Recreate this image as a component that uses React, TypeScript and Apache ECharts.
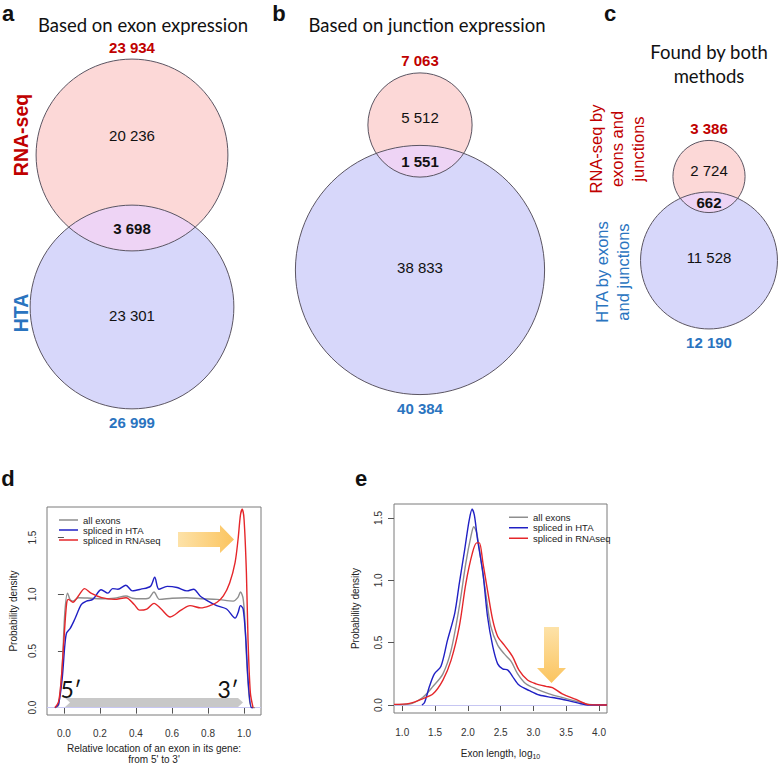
import React, { useEffect, useRef } from "react";
import * as echarts from "echarts";

// ---------- Venn data (panels a, b, c) ----------
const vennPanels = ["a", "b", "c"];
const rnaTotals = [23934, 7063, 3386];
const htaTotals = [26999, 40384, 12190];
const rnaOnly = [20236, 5512, 2724];
const overlaps = [3698, 1551, 662];
const htaOnly = [23301, 38833, 11528];
const vennTitles = ["Based on exon expression", "Based on junction expression", "Found by both\nmethods"];

// ---------- Panel d: relative location of exon ----------
const dAllExons: [number, number][] = [
  [-0.05, 0], [-0.03, 0.02], [-0.01, 0.35], [0.005, 0.84], [0.02, 1.01], [0.035, 0.95], [0.05, 0.94],
  [0.08, 0.97], [0.15, 0.965], [0.21, 0.96], [0.28, 0.965], [0.345, 0.985], [0.38, 0.965], [0.43, 0.96],
  [0.47, 0.965], [0.5, 1.02], [0.53, 0.955], [0.6, 0.965], [0.68, 0.97], [0.76, 0.96], [0.85, 0.955],
  [0.94, 0.94], [0.965, 0.97], [0.98, 1.02], [0.995, 0.96], [1.005, 0.75], [1.013, 0.46], [1.03, 0.07],
  [1.045, 0], [1.06, 0],
];
const dHTA: [number, number][] = [
  [-0.05, 0], [-0.03, 0.03], [-0.01, 0.25], [0.005, 0.55], [0.015, 0.66], [0.035, 0.7], [0.06, 0.78],
  [0.097, 0.91], [0.125, 0.94], [0.16, 0.955], [0.207, 1.04], [0.244, 1.01], [0.27, 1.05], [0.3, 1.045],
  [0.344, 1.08], [0.38, 1.03], [0.427, 1.045], [0.48, 1.07], [0.504, 1.15], [0.527, 1.045], [0.573, 1.07],
  [0.628, 1.06], [0.683, 1.03], [0.72, 1.045], [0.756, 0.985], [0.8, 0.94], [0.848, 0.9], [0.903, 0.87],
  [0.95, 0.79], [0.967, 0.84], [0.98, 0.9], [0.995, 0.87], [1.01, 0.6], [1.022, 0.25], [1.04, 0], [1.05, 0],
];
const dRNAseq: [number, number][] = [
  [-0.05, 0], [-0.03, 0.05], [-0.015, 0.25], [0.0, 0.6], [0.015, 0.92], [0.025, 0.955], [0.05, 0.93],
  [0.08, 0.985], [0.115, 1.05], [0.15, 1.01], [0.21, 0.97], [0.28, 0.955], [0.345, 0.97], [0.39, 0.91],
  [0.42, 0.86], [0.46, 0.87], [0.5, 0.92], [0.54, 0.87], [0.59, 0.8], [0.65, 0.86], [0.7, 0.9],
  [0.76, 0.88], [0.81, 0.9], [0.85, 0.93], [0.885, 0.985], [0.92, 1.1], [0.95, 1.28], [0.967, 1.49],
  [0.98, 1.7], [0.99, 1.75], [1.0, 1.66], [1.013, 1.19], [1.022, 0.6], [1.035, 0.13], [1.05, 0],
];
const dXTicks = [0, 0.2, 0.4, 0.6, 0.8, 1.0];
const dYTicks = [0, 0.5, 1.0, 1.5];

// ---------- Panel e: exon length ----------
const eAllExons: [number, number][] = [
  [0.874, 0.003], [1.11, 0.008], [1.31, 0.06], [1.47, 0.15], [1.62, 0.25], [1.745, 0.44], [1.87, 0.79],
  [1.97, 1.14], [2.05, 1.36], [2.09, 1.43], [2.135, 1.38], [2.2, 1.16], [2.28, 0.87], [2.35, 0.63],
  [2.455, 0.48], [2.556, 0.41], [2.66, 0.35], [2.76, 0.25], [2.885, 0.17], [3.04, 0.13], [3.24, 0.09],
  [3.44, 0.06], [3.65, 0.03], [3.85, 0.005], [4.122, 0],
];
const eHTA: [number, number][] = [
  [1.3, 0], [1.34, 0.02], [1.415, 0.15], [1.49, 0.25], [1.59, 0.31], [1.69, 0.52], [1.8, 0.735],
  [1.87, 0.976], [1.95, 1.24], [2.02, 1.48], [2.065, 1.57], [2.1, 1.52], [2.15, 1.32], [2.23, 1.06],
  [2.3, 0.71], [2.38, 0.47], [2.455, 0.33], [2.53, 0.29], [2.61, 0.28], [2.68, 0.23], [2.78, 0.16],
  [2.94, 0.115], [3.09, 0.08], [3.29, 0.06], [3.49, 0.04], [3.7, 0.013], [3.85, 0], [4.122, 0],
];
const eRNAseq: [number, number][] = [
  [0.874, 0.005], [1.11, 0.013], [1.31, 0.05], [1.47, 0.09], [1.62, 0.2], [1.745, 0.36], [1.87, 0.63],
  [1.97, 0.976], [2.07, 1.22], [2.135, 1.3], [2.175, 1.3], [2.23, 1.14], [2.3, 0.92], [2.38, 0.68],
  [2.455, 0.55], [2.556, 0.48], [2.68, 0.39], [2.78, 0.28], [2.91, 0.2], [3.04, 0.17], [3.19, 0.15],
  [3.29, 0.14], [3.44, 0.09], [3.65, 0.045], [3.85, 0.003], [4.122, 0],
];
const eXTicks = [1.0, 1.5, 2.0, 2.5, 3.0, 3.5, 4.0];
const eYTicks = [0, 0.5, 1.0, 1.5];
const seriesNames = ["all exons", "spliced in HTA", "spliced in RNAseq"];

// ---------- styles / layout ----------
const RED = "#c00000";
const BLUE = "#2a74bf";
const PINK_FILL = "#fcd8d7";
const BLUE_FILL = "#d7d7fa";
const LENS_FILL = "#eed4f5";
const CIRCLE_STROKE = "#5b5562";
const LINE_COLORS = ["#8e8e8e", "#2020c4", "#e5262a"];
const NUM_FONT = "'Liberation Sans', Arial, sans-serif";
const TITLE_FONT = "Lato, 'Open Sans', sans-serif";
const RADIUS_K = 0.62;

const vennCx = [132, 420, 709];
const rnaCy = [155, 125, 176.5];
const htaCy = [307, 270, 260.5];
const rnaOnlyY = [135, 117, 170];
const htaOnlyY = [315, 267, 257];

echarts.graphic.registerShape(
  "vennLens",
  echarts.graphic.extendShape({
    type: "vennLens",
    shape: { cx: 0, cy1: 0, r1: 1, cy2: 0, r2: 1 },
    buildPath(ctx: any, s: any) {
      const d = s.cy2 - s.cy1;
      const a = (d * d + s.r1 * s.r1 - s.r2 * s.r2) / (2 * d);
      const h = Math.sqrt(Math.max(s.r1 * s.r1 - a * a, 0));
      const t1 = Math.atan2(a, h);
      ctx.moveTo(s.cx + h, s.cy1 + a);
      ctx.arc(s.cx, s.cy1, s.r1, t1, Math.PI - t1, false);
      const pl = Math.atan2(a - d, -h);
      const pr = Math.atan2(a - d, h);
      ctx.arc(s.cx, s.cy2, s.r2, pl, pr, false);
      ctx.closePath();
    },
  }) as any
);

const fmt = (n: number) => n.toString().replace(/\B(?=(\d{3})+(?!\d))/g, " ");

function txt(x: number, y: number, text: string, opts: any = {}) {
  return {
    type: "text",
    x,
    y,
    rotation: opts.rotation || 0,
    z: opts.z || 10,
    style: {
      text,
      fill: opts.fill || "#111",
      font: `${opts.bold ? "bold " : ""}${opts.size || 15}px ${opts.family || NUM_FONT}`,
      align: opts.align || "center",
      verticalAlign: opts.verticalAlign || "middle",
      lineHeight: opts.lineHeight,
    },
  };
}

function buildGraphic() {
  const g: any[] = [];
  vennPanels.forEach((_, i) => {
    const r1 = RADIUS_K * Math.sqrt(rnaTotals[i]);
    const r2 = RADIUS_K * Math.sqrt(htaTotals[i]);
    const cx = vennCx[i];
    g.push({ type: "circle", z: 1, shape: { cx, cy: rnaCy[i], r: r1 }, style: { fill: PINK_FILL, stroke: null } });
    g.push({ type: "circle", z: 1, shape: { cx, cy: htaCy[i], r: r2 }, style: { fill: BLUE_FILL, stroke: null } });
    g.push({
      type: "vennLens",
      z: 2,
      shape: { cx, cy1: rnaCy[i], r1, cy2: htaCy[i], r2 },
      style: { fill: LENS_FILL, stroke: null },
    });
    g.push({ type: "circle", z: 3, shape: { cx, cy: rnaCy[i], r: r1 }, style: { fill: "none", stroke: CIRCLE_STROKE, lineWidth: 1 } });
    g.push({ type: "circle", z: 3, shape: { cx, cy: htaCy[i], r: r2 }, style: { fill: "none", stroke: CIRCLE_STROKE, lineWidth: 1 } });
    const lensMid = ((rnaCy[i] + r1) + (htaCy[i] - r2)) / 2;
    g.push(txt(cx, rnaCy[i] - r1 - 12, fmt(rnaTotals[i]), { bold: true, fill: RED }));
    g.push(txt(cx, rnaOnlyY[i], fmt(rnaOnly[i])));
    g.push(txt(cx, lensMid, fmt(overlaps[i]), { bold: true }));
    g.push(txt(cx, htaOnlyY[i], fmt(htaOnly[i])));
    g.push(txt(cx, htaCy[i] + r2 + 14, fmt(htaTotals[i]), { bold: true, fill: BLUE }));
  });
  // panel letters
  g.push(txt(8, 13, "a", { bold: true, size: 22 }));
  g.push(txt(279, 13, "b", { bold: true, size: 22 }));
  g.push(txt(610, 13, "c", { bold: true, size: 22 }));
  g.push(txt(8, 478, "d", { bold: true, size: 22 }));
  g.push(txt(361, 478, "e", { bold: true, size: 22 }));
  // titles
  g.push(txt(143, 25, vennTitles[0], { size: 18.5, family: TITLE_FONT }));
  g.push(txt(427, 25, vennTitles[1], { size: 18.5, family: TITLE_FONT }));
  g.push(txt(709, 64, vennTitles[2], { size: 18.5, family: TITLE_FONT, lineHeight: 24 }));
  // side labels
  g.push(txt(21, 135, "RNA-seq", { bold: true, fill: RED, size: 19.5, rotation: Math.PI / 2 }));
  g.push(txt(21, 313, "HTA", { bold: true, fill: BLUE, size: 19.5, rotation: Math.PI / 2 }));
  g.push(txt(596, 149, "RNA-seq by", { fill: RED, size: 16.5, rotation: Math.PI / 2 }));
  g.push(txt(617, 149, "exons and", { fill: RED, size: 16.5, rotation: Math.PI / 2 }));
  g.push(txt(638, 149, "junctions", { fill: RED, size: 16.5, rotation: Math.PI / 2 }));
  g.push(txt(602, 272, "HTA by exons", { fill: BLUE, size: 16.5, rotation: Math.PI / 2 }));
  g.push(txt(623, 272, "and junctions", { fill: BLUE, size: 16.5, rotation: Math.PI / 2 }));

  // panel d annotations
  g.push({
    type: "polygon",
    z: 5,
    shape: { points: [[178, 532], [220, 532], [220, 525], [234, 539.5], [220, 553], [220, 547], [178, 547]] },
    style: {
      fill: new echarts.graphic.LinearGradient(0, 0, 1, 0, [
        { offset: 0, color: "#fde2a8" },
        { offset: 1, color: "#fbc45f" },
      ]),
    },
  });
  g.push({
    type: "polygon",
    z: 4,
    shape: { points: [[65, 698], [238, 698], [243, 702.5], [238, 707], [65, 707], [70, 702.5]] },
    style: { fill: "#c8c8c8" },
  });
  g.push(txt(71, 689, "5′", { size: 23, family: TITLE_FONT }));
  g.push(txt(228, 689, "3′", { size: 23, family: TITLE_FONT }));

  // panel e arrow
  g.push({
    type: "polygon",
    z: 5,
    shape: { points: [[544, 627], [559, 627], [559, 668], [566, 668], [551.5, 683], [537, 668], [544, 668]] },
    style: {
      fill: new echarts.graphic.LinearGradient(0, 0, 0, 1, [
        { offset: 0, color: "#fde2a8" },
        { offset: 1, color: "#fbc45f" },
      ]),
    },
  });
  return g;
}

const axisLabelStyle = { fontSize: 10, color: "#333", fontFamily: NUM_FONT };
const tickStyle = { show: true, inside: false, length: 6, lineStyle: { color: "#555", width: 1 } };

function lineSeries(name: string, data: [number, number][], idx: number, color: string, withZero: boolean) {
  const s: any = {
    name,
    type: "line",
    xAxisIndex: idx,
    yAxisIndex: idx,
    data,
    showSymbol: false,
    smooth: 0.3,
    lineStyle: { color, width: 1.4 },
    itemStyle: { color },
    z: 3,
  };
  if (withZero) {
    s.markLine = {
      silent: true,
      symbol: "none",
      label: { show: false },
      lineStyle: { color: "#c6c6f2", type: "solid", width: 1 },
      data: [{ yAxis: 0 }],
      z: 1,
    };
  }
  return s;
}

export default function App() {
  const ref = useRef<HTMLDivElement>(null);
  useEffect(() => {
    if (!ref.current) return;
    const chart = echarts.init(ref.current, null, { renderer: "svg" });
    const option: any = {
      animation: false,
      backgroundColor: "#ffffff",
      grid: [
        { left: 47, top: 507, width: 214, height: 208, show: true, borderColor: "#7a7a7a", borderWidth: 1 },
        { left: 394, top: 504, width: 213, height: 209, show: true, borderColor: "#7a7a7a", borderWidth: 1 },
      ],
      xAxis: [
        {
          gridIndex: 0, type: "value", min: -0.094, max: 1.094,
          axisLine: { show: false }, splitLine: { show: false },
          axisTick: { ...tickStyle, customValues: dXTicks },
          axisLabel: { ...axisLabelStyle, margin: 13, customValues: dXTicks, formatter: (v: number) => v.toFixed(1) },
          name: "Relative location of an exon in its gene:\nfrom 5' to 3'",
          nameLocation: "middle", nameGap: 28,
          nameTextStyle: { fontSize: 10, color: "#222", fontFamily: NUM_FONT, lineHeight: 11, verticalAlign: "top" },
        },
        {
          gridIndex: 1, type: "value", min: 0.874, max: 4.122,
          axisLine: { show: false }, splitLine: { show: false },
          axisTick: { ...tickStyle, customValues: eXTicks },
          axisLabel: { ...axisLabelStyle, margin: 14, customValues: eXTicks, formatter: (v: number) => v.toFixed(1) },
          name: "Exon length, log{sub|10}",
          nameLocation: "middle", nameGap: 34,
          nameTextStyle: {
            fontSize: 10, color: "#222", fontFamily: NUM_FONT, verticalAlign: "top",
            rich: { sub: { fontSize: 7, fontFamily: NUM_FONT, color: "#222", padding: [6, 0, 0, 0] } },
          },
        },
      ],
      yAxis: [
        {
          gridIndex: 0, type: "value", min: -0.065, max: 1.77,
          axisLine: { show: false }, splitLine: { show: false },
          axisTick: { ...tickStyle, customValues: dYTicks },
          axisLabel: { ...axisLabelStyle, margin: 10, rotate: 90, customValues: dYTicks, formatter: (v: number) => v.toFixed(1) },
          name: "Probability density", nameLocation: "middle", nameGap: 29,
          nameTextStyle: { fontSize: 10, color: "#222", fontFamily: NUM_FONT },
        },
        {
          gridIndex: 1, type: "value", min: -0.064, max: 1.612,
          axisLine: { show: false }, splitLine: { show: false },
          axisTick: { ...tickStyle, customValues: eYTicks },
          axisLabel: { ...axisLabelStyle, margin: 11, rotate: 90, customValues: eYTicks, formatter: (v: number) => v.toFixed(1) },
          name: "Probability density", nameLocation: "middle", nameGap: 34,
          nameTextStyle: { fontSize: 10, color: "#222", fontFamily: NUM_FONT },
        },
      ],
      legend: [
        {
          left: 54, top: 510, orient: "vertical", itemWidth: 19, itemHeight: 1.5, itemGap: 0, icon: "rect",
          selectedMode: false, data: seriesNames,
          textStyle: { fontSize: 9.5, color: "#222", fontFamily: NUM_FONT, lineHeight: 10 },
        },
        {
          left: 504, top: 507, orient: "vertical", itemWidth: 19, itemHeight: 1.5, itemGap: 0, icon: "rect",
          selectedMode: false, data: seriesNames,
          textStyle: { fontSize: 9.5, color: "#222", fontFamily: NUM_FONT, lineHeight: 10.5 },
        },
      ],
      series: [
        lineSeries(seriesNames[0], dAllExons, 0, LINE_COLORS[0], true),
        lineSeries(seriesNames[1], dHTA, 0, LINE_COLORS[1], false),
        lineSeries(seriesNames[2], dRNAseq, 0, LINE_COLORS[2], false),
        lineSeries(seriesNames[0], eAllExons, 1, LINE_COLORS[0], true),
        lineSeries(seriesNames[1], eHTA, 1, LINE_COLORS[1], false),
        lineSeries(seriesNames[2], eRNAseq, 1, LINE_COLORS[2], false),
      ],
      graphic: buildGraphic(),
    };
    chart.setOption(option);
    return () => chart.dispose();
  }, []);
  return (
    <div
      ref={ref}
      style={{ position: "absolute", left: 0, top: 0, width: 778, height: 766, background: "#fff" }}
    />
  );
}
